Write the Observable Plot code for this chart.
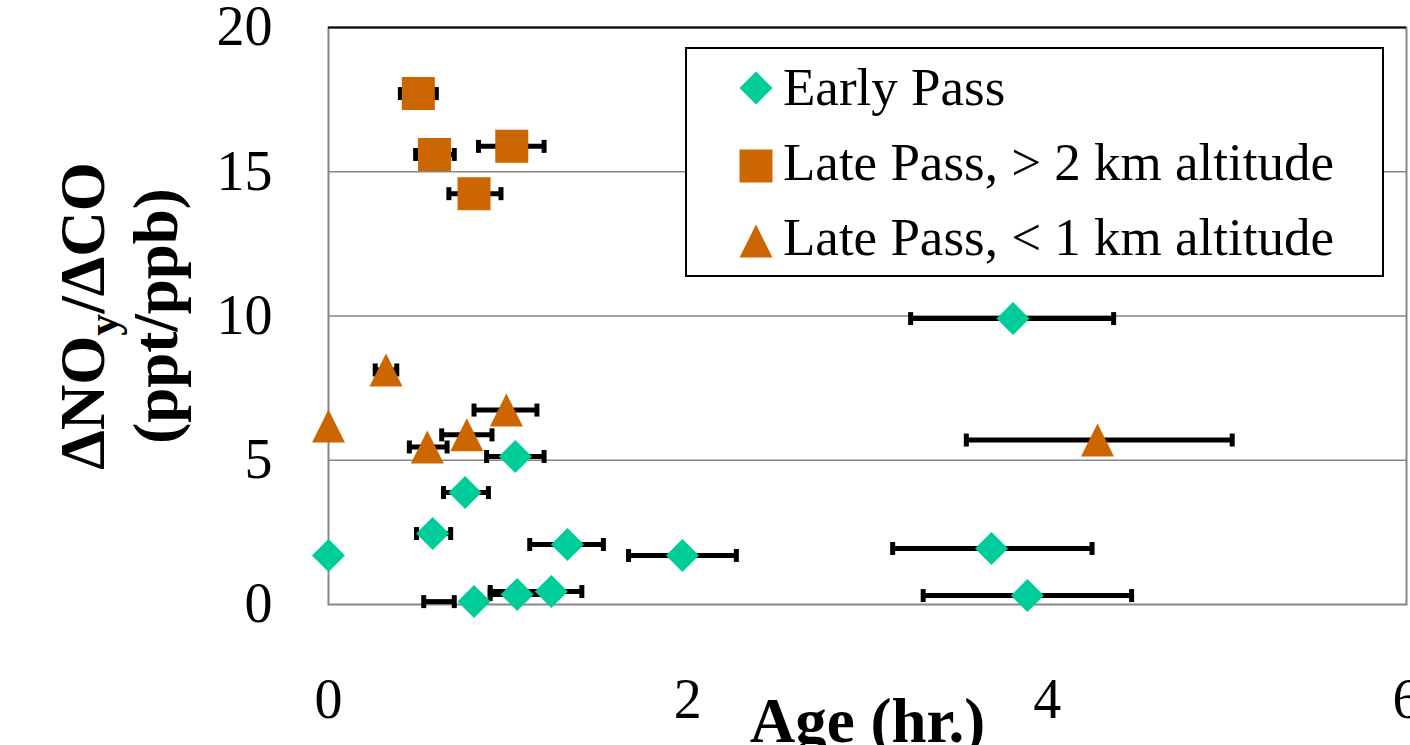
<!DOCTYPE html>
<html>
<head>
<meta charset="utf-8">
<script src="https://cdn.jsdelivr.net/npm/d3@7"></script>
<script src="https://cdn.jsdelivr.net/npm/@observablehq/plot@0.6"></script>
<style>
html, body { margin: 0; padding: 0; background: #fff; overflow: hidden; }
#wrap { position: relative; width: 1410px; height: 745px; }
#legend { position: absolute; left: 685px; top: 47px; width: 699px; height: 230px; box-sizing: border-box;
  border: 2px solid #000; background: #fff; font-family: 'Liberation Serif', 'Times New Roman', serif;
  font-size: 53px; line-height: 53px; color: #000; }
#legend .item { position: absolute; left: 96px; white-space: nowrap; }
#legend svg { position: absolute; left: 52px; width: 34px; height: 34px; overflow: visible; }
</style>
</head>
<body>
<div id="wrap"><div id="legend"></div></div>
<script>
// ---- data ----
const seriesNames = ["Early Pass", "Late Pass, > 2 km altitude", "Late Pass, < 1 km altitude"];
const seriesColors = ["#00CC99", "#CC6600", "#CC6600"];

// Early Pass
const earlyAge    = [0,    0.58, 0.76, 1.04, 1.33, 1.97, 3.81, 3.69, 3.89, 0.81, 1.05, 1.24];
const earlyRatio  = [1.70, 2.46, 3.88, 5.13, 2.08, 1.70, 9.91, 1.94, 0.31, 0.10, 0.35, 0.45];
const earlyAgeMin = [null, 0.49, 0.64, 0.88, 1.12, 1.67, 3.24, 3.14, 3.31, 0.53, 0.90, 0.90];
const earlyAgeMax = [null, 0.68, 0.89, 1.20, 1.53, 2.27, 4.37, 4.25, 4.47, 0.70, 1.22, 1.41];

// Late Pass, > 2 km altitude
const highAge    = [0.50, 0.59, 1.02, 0.81];
const highRatio  = [17.71, 15.60, 15.88, 14.24];
const highAgeMin = [0.40, 0.485, 0.835, 0.67];
const highAgeMax = [0.60, 0.70, 1.20, 0.96];

// Late Pass, < 1 km altitude
const lowAge    = [0,    0.32, 0.55, 0.77, 0.99, 4.28];
const lowRatio  = [6.19, 8.13, 5.46, 5.88, 6.74, 5.70];
const lowAgeMin = [null, 0.26, 0.45, 0.63, 0.81, 3.55];
const lowAgeMax = [null, 0.38, 0.66, 0.91, 1.16, 5.03];

const xTicks = [0, 2, 4, 6];
const yTicks = [0, 5, 10, 15, 20];
const gridTicks = [5, 10, 15];
const xTitle = "Age (hr.)";
const yTitle1 = "ΔNOy/ΔCO";
const yTitle2 = "(ppt/ppb)";

// ---- build tables ----
function table(age, ratio, mn, mx) {
  return age.map((a, i) => ({age: a, ratio: ratio[i], min: mn[i], max: mx[i]}));
}
const early = table(earlyAge, earlyRatio, earlyAgeMin, earlyAgeMax);
const high = table(highAge, highRatio, highAgeMin, highAgeMax);
const low = table(lowAge, lowRatio, lowAgeMin, lowAgeMax);

// ---- custom symbols (bbox-centred like spreadsheet markers) ----
const diamondSym = {draw(ctx, size) { const h = Math.sqrt(size) / 2; ctx.moveTo(0, -h); ctx.lineTo(h, 0); ctx.lineTo(0, h); ctx.lineTo(-h, 0); ctx.closePath(); }};
const squareSym = {draw(ctx, size) { const h = Math.sqrt(size) / 2; ctx.rect(-h, -h, 2 * h, 2 * h); }};
const triangleSym = {draw(ctx, size) { const h = Math.sqrt(size) / 2; ctx.moveTo(0, -h); ctx.lineTo(h, h); ctx.lineTo(-h, h); ctx.closePath(); }};
const capSym = {draw(ctx) { ctx.rect(-2.5, -6.5, 5, 13); }};
const markerR = 33 / Math.sqrt(Math.PI); // 33px marker

function seriesMarks(data, symbol, color) {
  const withErr = data.filter(d => d.min != null);
  return [
    Plot.ruleY(withErr, {y: "ratio", x1: "min", x2: "max", stroke: "black", strokeWidth: 5}),
    Plot.dot(withErr, {x: "min", y: "ratio", symbol: capSym, fill: "black", r: 5}),
    Plot.dot(withErr, {x: "max", y: "ratio", symbol: capSym, fill: "black", r: 5}),
    Plot.dot(data, {x: "age", y: "ratio", symbol, fill: color, stroke: "none", r: markerR})
  ];
}

const font = "'Liberation Serif', 'Times New Roman', serif";
const fmt = d => String(d);

const chart = Plot.plot({
  width: 1410,
  height: 745,
  marginLeft: 328,
  marginRight: 4,
  marginTop: 27,
  marginBottom: 141,
  style: {fontFamily: font, background: "white", color: "black"},
  x: {domain: [0, 6]},
  y: {domain: [0, 20]},
  marks: [
    Plot.gridY(gridTicks, {stroke: "#878787", strokeOpacity: 1, strokeWidth: 1.6}),
    Plot.frame({stroke: "#878787", strokeWidth: 2}),
    Plot.ruleY([20], {stroke: "black", strokeWidth: 2}),
    Plot.axisY(yTicks, {tickSize: 0, tickPadding: 56, fontSize: 56, label: null, tickFormat: fmt}),
    Plot.axisX(xTicks, {tickSize: 0, tickPadding: 74, fontSize: 56, label: null, tickFormat: fmt}),
    ...seriesMarks(early, diamondSym, seriesColors[0]),
    ...seriesMarks(high, squareSym, seriesColors[1]),
    ...seriesMarks(low, triangleSym, seriesColors[2]),
    Plot.text([xTitle], {frameAnchor: "bottom", dy: 117, fontSize: 63, fontWeight: "bold", lineAnchor: "middle"}),
    Plot.text([yTitle1], {frameAnchor: "left", rotate: -90, dx: -245, fontSize: 63, fontWeight: "bold", lineAnchor: "middle", textAnchor: "middle"}),
    Plot.text([yTitle2], {frameAnchor: "left", rotate: -90, dx: -172, fontSize: 63, fontWeight: "bold", lineAnchor: "middle", textAnchor: "middle"})
  ]
});

// subscript "y" in ΔNOy
d3.select(chart).selectAll("text").filter(function() { return this.textContent === yTitle1; }).each(function() {
  const t = d3.select(this);
  t.text(null);
  t.append("tspan").text("ΔNO");
  t.append("tspan").attr("dy", "14px").attr("font-size", "44px").text("y");
  t.append("tspan").attr("dy", "-14px").text("/ΔCO");
});

document.getElementById("wrap").prepend(chart);

// ---- legend ----
const legendSyms = [
  '<path d="M0,-16.5L16.5,0L0,16.5L-16.5,0Z"/>',
  '<rect x="-16.5" y="-16.5" width="33" height="33"/>',
  '<path d="M0,-16.5L16.5,16.5L-16.5,16.5Z"/>'
];
const legendSymTop = [22, 100, 175];
const legendTextTop = [12, 87, 162];
const legend = document.getElementById("legend");
seriesNames.forEach((name, i) => {
  legend.insertAdjacentHTML("beforeend",
    `<svg viewBox="-17 -17 34 34" style="top:${legendSymTop[i]}px" fill="${seriesColors[i]}">${legendSyms[i]}</svg>` +
    `<div class="item" style="top:${legendTextTop[i]}px"></div>`);
  legend.lastElementChild.textContent = name;
});
</script>
</body>
</html>
